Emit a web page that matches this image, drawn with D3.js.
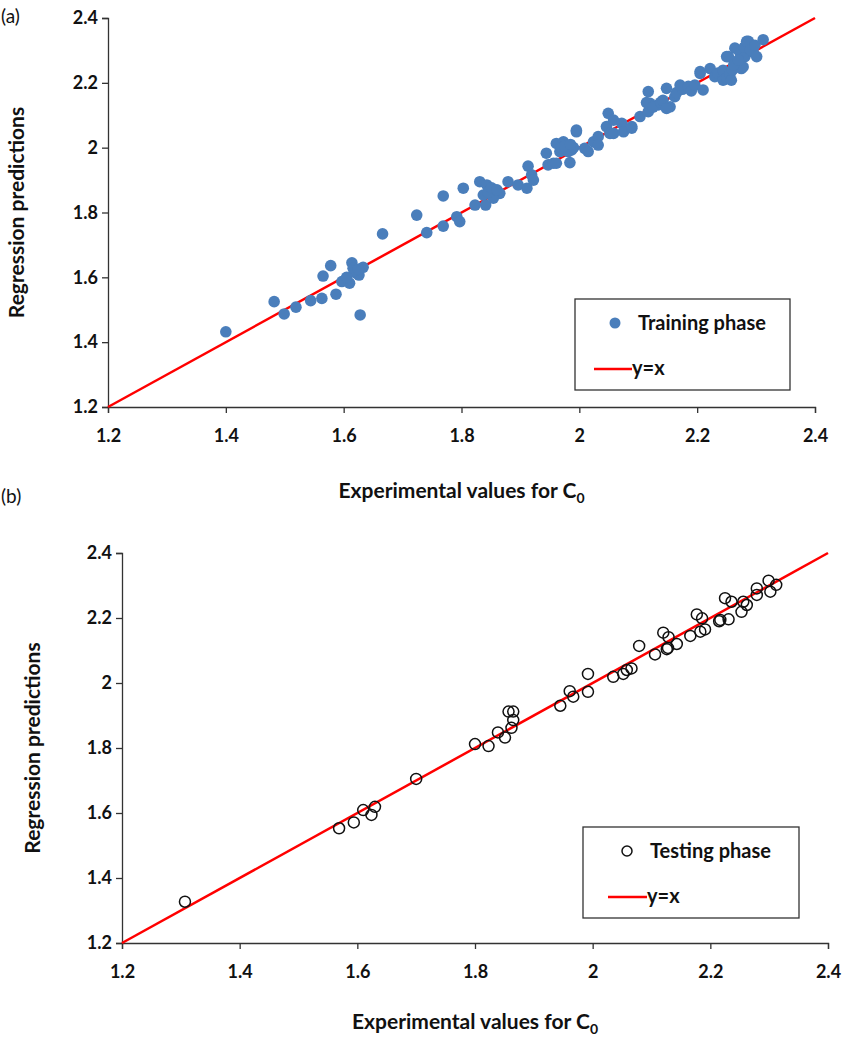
<!DOCTYPE html>
<html>
<head>
<meta charset="utf-8">
<script src="https://cdn.jsdelivr.net/npm/d3@7"></script>
<style>
  body { margin: 0; background: #fff; }
  svg { display: block; font-family: Lato, "Open Sans", sans-serif; }
</style>
</head>
<body>
<svg id="chart" width="843" height="1039"></svg>
<script>
// tick values shared by both axes
var tickValues = [1.2, 1.4, 1.6, 1.8, 2, 2.2, 2.4];
var axisDomain = [1.2, 2.4];

// (a) training phase: experimental vs predicted
var trainX = [1.400, 1.482, 1.499, 1.519, 1.544, 1.563, 1.587, 1.565, 1.578, 1.597, 1.610, 1.614, 1.616, 1.622, 1.633, 1.626, 1.618, 1.628,
  1.605, 1.625,
  1.666, 1.724, 1.741, 1.769, 1.769, 1.792, 1.797, 1.803, 1.823, 1.831, 1.843, 1.841, 1.837, 1.848, 1.857, 1.865, 1.854,
  1.845, 1.851, 1.860,
  1.879, 1.896, 1.911, 1.913, 1.919, 1.922, 1.944, 1.947, 1.956, 1.961, 1.973, 1.978, 1.967, 1.961, 1.984, 1.987, 1.995, 1.995,
  1.981, 1.970, 1.990, 1.975, 1.985, 2.009, 2.015, 2.024, 2.032, 2.032, 2.049, 2.046, 2.058, 2.052, 2.058, 2.072, 2.075, 2.089, 2.089, 2.103,
  2.117, 2.117, 2.120, 2.114, 2.134, 2.125, 2.138, 2.148, 2.142, 2.154, 2.148, 2.162, 2.165, 2.175, 2.171, 2.185, 2.190, 2.196, 2.205, 2.205,
  2.210, 2.222, 2.230, 2.235, 2.244, 2.244, 2.250, 2.256, 2.258, 2.260, 2.250, 2.253, 2.264, 2.273, 2.281, 2.275, 2.278, 2.287,
  2.262, 2.270, 2.295, 2.280,
  2.284, 2.290, 2.298, 2.301, 2.312];
var trainY = [1.432, 1.525, 1.487, 1.508, 1.528, 1.535, 1.548, 1.604, 1.636, 1.587, 1.582, 1.645, 1.628, 1.612, 1.631, 1.607, 1.620, 1.484,
  1.600, 1.625,
  1.734, 1.792, 1.738, 1.758, 1.851, 1.787, 1.772, 1.875, 1.823, 1.895, 1.885, 1.823, 1.854, 1.869, 1.859, 1.859, 1.844,
  1.862, 1.876, 1.870,
  1.895, 1.885, 1.875, 1.943, 1.916, 1.900, 1.983, 1.947, 1.952, 2.013, 2.018, 1.998, 1.988, 1.952, 1.954, 1.993, 2.049, 2.054,
  1.988, 2.000, 2.000, 2.005, 2.010, 1.998, 1.988, 2.018, 2.034, 2.008, 2.106, 2.065, 2.085, 2.044, 2.044, 2.075, 2.049, 2.060, 2.065, 2.096,
  2.111, 2.173, 2.137, 2.139, 2.132, 2.125, 2.140, 2.183, 2.146, 2.126, 2.121, 2.157, 2.170, 2.180, 2.193, 2.189, 2.175, 2.193, 2.229, 2.235,
  2.178, 2.244, 2.219, 2.230, 2.239, 2.208, 2.215, 2.229, 2.208, 2.240, 2.281, 2.281, 2.307, 2.292, 2.281, 2.244, 2.249, 2.328,
  2.255, 2.270, 2.295, 2.310,
  2.328, 2.302, 2.316, 2.281, 2.333];

// (b) testing phase
var testX = [1.307, 1.569, 1.594, 1.610, 1.624, 1.630, 1.700, 1.800, 1.823, 1.839, 1.851, 1.862, 1.865, 1.857, 1.865,
  1.945, 1.961, 1.967, 1.992, 1.992, 2.035, 2.052, 2.058, 2.066, 2.079, 2.106, 2.120, 2.129, 2.126, 2.128, 2.143, 2.166,
  2.177, 2.186, 2.183, 2.191, 2.217, 2.215, 2.231, 2.225, 2.236, 2.253, 2.256, 2.262, 2.279, 2.279, 2.299, 2.302, 2.312];
var testY = [1.327, 1.553, 1.571, 1.609, 1.594, 1.619, 1.705, 1.812, 1.806, 1.848, 1.832, 1.862, 1.886, 1.912, 1.912,
  1.930, 1.975, 1.958, 2.028, 1.973, 2.019, 2.028, 2.040, 2.045, 2.114, 2.088, 2.155, 2.141, 2.104, 2.108, 2.120, 2.145,
  2.211, 2.199, 2.158, 2.165, 2.194, 2.190, 2.196, 2.261, 2.250, 2.219, 2.250, 2.240, 2.291, 2.271, 2.315, 2.281, 2.302];

var svg = d3.select('#chart');

function drawPanel(p) {
  var x = d3.scaleLinear().domain(axisDomain).range([p.left, p.right]);
  var y = d3.scaleLinear().domain(axisDomain).range([p.bottom, p.top]);
  var g = svg.append('g');

  var xAxis = g.append('g')
    .attr('transform', 'translate(0,' + p.bottom + ')')
    .call(d3.axisBottom(x).tickValues(tickValues).tickFormat(d3.format('')).tickSizeOuter(0).tickSize(6));
  var yAxis = g.append('g')
    .attr('transform', 'translate(' + p.left + ',0)')
    .call(d3.axisLeft(y).tickValues(tickValues).tickFormat(d3.format('')).tickSizeOuter(0).tickSize(6));

  [xAxis, yAxis].forEach(function (a) {
    a.select('.domain').attr('stroke', '#333').attr('stroke-width', 1.3);
    a.selectAll('.tick line').attr('stroke', '#333').attr('stroke-width', 1.3);
    a.selectAll('.tick text').attr('font-family', 'Lato').attr('font-weight', 'bold')
      .attr('font-size', 18).attr('fill', '#111');
  });
  xAxis.selectAll('.tick text').attr('y', 22);
  yAxis.selectAll('.tick text').attr('x', -10);

  // y = x reference line
  g.append('line')
    .attr('x1', x(axisDomain[0])).attr('y1', y(axisDomain[0]))
    .attr('x2', x(axisDomain[1])).attr('y2', y(axisDomain[1]))
    .attr('stroke', '#f00').attr('stroke-width', 2.5);

  var pts = p.xs.map(function (v, i) { return [v, p.ys[i]]; });
  var dots = g.append('g').selectAll('circle').data(pts).join('circle')
    .attr('cx', function (d) { return x(d[0]); })
    .attr('cy', function (d) { return y(d[1]); })
    .attr('r', p.r);
  if (p.filled) dots.attr('fill', '#4a7ebb');
  else dots.attr('fill', 'none').attr('stroke', '#111').attr('stroke-width', 1.5);

  // axis titles
  var xt = g.append('text')
    .attr('x', (p.left + p.right) / 2).attr('y', p.xTitleY)
    .attr('text-anchor', 'middle').attr('font-weight', 'bold').attr('font-size', 21).attr('fill', '#111')
    .text('Experimental values for C');
  xt.append('tspan').attr('dy', 5).attr('font-size', 14).text('0');

  g.append('text')
    .attr('transform', 'translate(' + p.yTitleX + ',' + (p.top + p.bottom) / 2 + ') rotate(-90)')
    .attr('text-anchor', 'middle').attr('font-weight', 'bold').attr('font-size', 21).attr('fill', '#111')
    .text('Regression predictions');

  g.append('text').attr('x', 1).attr('y', p.labelY)
    .attr('font-size', 19).attr('fill', '#111').text(p.label);

  // legend
  var lg = g.append('g').attr('transform', 'translate(' + p.legend[0] + ',' + p.legend[1] + ')');
  lg.append('rect').attr('width', p.legend[2]).attr('height', p.legend[3])
    .attr('fill', '#fff').attr('stroke', '#333').attr('stroke-width', 1.3);
  var sym = lg.append('circle').attr('cx', p.legSym).attr('cy', 24).attr('r', p.filled ? 5.5 : 5);
  if (p.filled) sym.attr('fill', '#4a7ebb');
  else sym.attr('fill', 'none').attr('stroke', '#111').attr('stroke-width', 1.5);
  lg.append('text').attr('x', p.legSym + 23).attr('y', 31)
    .attr('font-weight', 'bold').attr('font-size', 20).attr('fill', '#111').text(p.name);
  lg.append('line').attr('x1', p.legLine[0]).attr('x2', p.legLine[1]).attr('y1', 70).attr('y2', 70)
    .attr('stroke', '#f00').attr('stroke-width', 2.5);
  lg.append('text').attr('x', p.legLine[1]).attr('y', 76)
    .attr('font-weight', 'bold').attr('font-size', 20).attr('fill', '#111').text('y=x');
}

drawPanel({
  left: 108, right: 815, top: 18, bottom: 407,
  xs: trainX, ys: trainY, r: 5.8, filled: true,
  xTitleY: 498, yTitleX: 24, label: '(a)', labelY: 23,
  legend: [575, 299, 215, 91], legSym: 40, legLine: [19, 57], name: 'Training phase'
});

drawPanel({
  left: 122, right: 828, top: 553, bottom: 943,
  xs: testX, ys: testY, r: 5.5, filled: false,
  xTitleY: 1029, yTitleX: 40, label: '(b)', labelY: 503,
  legend: [583, 827, 216, 91], legSym: 44, legLine: [25, 64], name: 'Testing phase'
});
</script>
</body>
</html>
